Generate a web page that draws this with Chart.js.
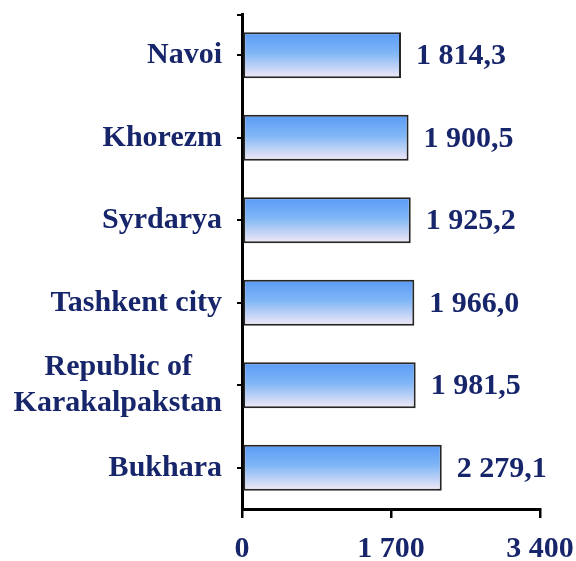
<!DOCTYPE html>
<html>
<head>
<meta charset="utf-8">
<script src="https://cdn.jsdelivr.net/npm/chart.js@4/dist/chart.umd.min.js"></script>
<style>
  html, body { margin: 0; padding: 0; background: #fff; }
  #wrap { width: 576px; height: 561px; }
</style>
</head>
<body>
<div id="wrap"><canvas id="myChart"></canvas></div>
<script>
// data
const regions = ['Navoi', 'Khorezm', 'Syrdarya', 'Tashkent city', ['Republic of    ', 'Karakalpakstan'], 'Bukhara'];
const values = [1814.3, 1900.5, 1925.2, 1966.0, 1981.5, 2279.1];
const xTicks = [0, 1700, 3400];

const navy = '#17256b';
const labelFont = { family: '"Liberation Serif", "Times New Roman", serif', size: 30, weight: 'bold' };

// 1700 -> "1 700", 1814.3 -> "1 814,3"
function fmt(v, dec) {
  const parts = v.toFixed(dec).split('.');
  const whole = parts[0].replace(/\B(?=(\d{3})+(?!\d))/g, ' ');
  return parts.length > 1 ? whole + ',' + parts[1] : whole;
}

// vertical gradient for each bar, from its own top to bottom
function barGradient(context) {
  const chart = context.chart;
  const y = chart.scales.y;
  if (!y || !chart.chartArea) return '#7db5f6';
  const mid = y.getPixelForValue(context.dataIndex);
  const half = 23;
  const g = chart.ctx.createLinearGradient(0, mid - half, 0, mid + half);
  g.addColorStop(0, '#5a9af7');
  g.addColorStop(0.45, '#7fb6f6');
  g.addColorStop(1, '#f4eaf6');
  return g;
}

// value labels at the end of the bars + little tick at the top of the y axis
const extras = {
  id: 'extras',
  afterDatasetsDraw(chart) {
    const ctx = chart.ctx;
    const meta = chart.getDatasetMeta(0);
    ctx.save();
    ctx.font = 'bold 30px "Liberation Serif", "Times New Roman", serif';
    ctx.fillStyle = navy;
    ctx.textAlign = 'left';
    ctx.textBaseline = 'middle';
    meta.data.forEach((bar, i) => {
      ctx.fillText(fmt(values[i], 1), bar.x + 15, bar.y + 1);
    });
    ctx.restore();
  },
  afterDraw(chart) {
    const ctx = chart.ctx;
    const a = chart.chartArea;
    ctx.save();
    ctx.strokeStyle = '#000';
    ctx.lineWidth = 2;
    ctx.beginPath();
    ctx.moveTo(a.left - 5, a.top + 1);
    ctx.lineTo(a.left, a.top + 1);
    ctx.stroke();
    ctx.restore();
  }
};

const config = {
  type: 'bar',
  data: {
    labels: regions,
    datasets: [{
      data: values,
      backgroundColor: barGradient,
      borderColor: '#262626',
      borderWidth: 2,
      borderSkipped: false,
      categoryPercentage: 1,
      barPercentage: 0.56
    }]
  },
  options: {
    indexAxis: 'y',
    responsive: true,
    maintainAspectRatio: false,
    animation: false,
    layout: { padding: { left: 0, right: 36, top: 14, bottom: 0 } },
    plugins: {
      legend: { display: false },
      tooltip: { enabled: false }
    },
    scales: {
      x: {
        min: 0,
        max: 3400,
        afterBuildTicks: (s) => { s.ticks = xTicks.map(v => ({ value: v })); },
        afterFit: (s) => { s.height = 52; s.paddingLeft = 0; s.paddingRight = 0; },
        border: { display: true, color: '#000', width: 3 },
        grid: { drawOnChartArea: false, drawTicks: true, tickLength: 9, color: '#000', lineWidth: 2.5 },
        ticks: {
          color: navy,
          font: labelFont,
          padding: 13,
          maxRotation: 0,
          callback: (v) => fmt(v, 0)
        }
      },
      y: {
        afterFit: (s) => { s.width = 242; s.paddingTop = 0; s.paddingBottom = 0; },
        border: { display: true, color: '#000', width: 3 },
        grid: { drawOnChartArea: false, drawTicks: true, tickLength: 5, offset: false, color: '#000', lineWidth: 2 },
        ticks: {
          color: navy,
          font: labelFont,
          padding: 15
        }
      }
    }
  },
  plugins: [extras]
};

const myChart = new Chart(document.getElementById('myChart').getContext('2d'), config);
</script>
</body>
</html>
